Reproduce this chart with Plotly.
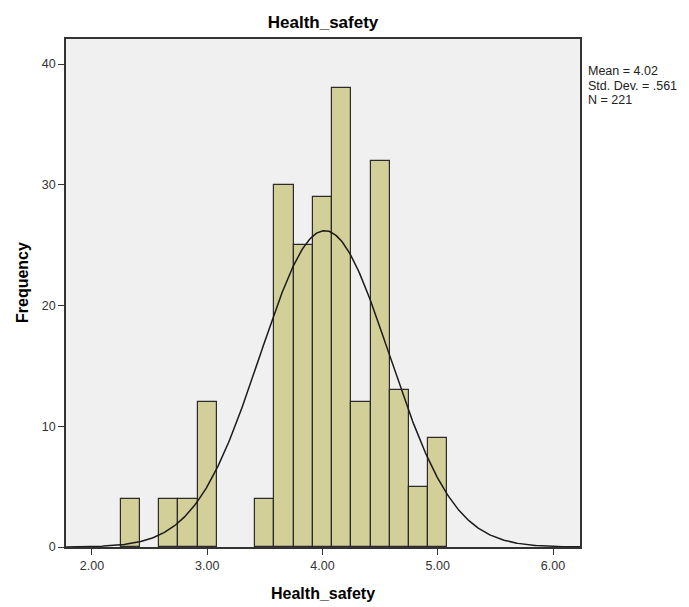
import numpy as np
import plotly.graph_objects as go

# Data
bin_start = 2.25
bin_width = 1.0 / 6.0
counts = [4, 0, 4, 4, 12, 0, 0, 4, 30, 25, 29, 38, 12, 32, 13, 5, 9]
mean_val = 4.02
std_val = 0.561
n_val = 221
stats_lines = [f"Mean = {mean_val:.2f}", "Std. Dev. = .561", f"N = {n_val}"]
x_ticks = [2.0, 3.0, 4.0, 5.0, 6.0]
x_tick_labels = ["2.00", "3.00", "4.00", "5.00", "6.00"]
y_ticks = [0, 10, 20, 30, 40]

centers = [bin_start + bin_width * (i + 0.5) for i in range(len(counts))]
bar_heights = [c if c > 0 else None for c in counts]

fig = go.Figure()
fig.add_trace(go.Bar(
    x=centers, y=bar_heights, width=[bin_width] * len(counts),
    marker=dict(color="#D3CF98", line=dict(color="#2b2b2b", width=1.2)),
    hoverinfo="x+y", showlegend=False,
))

xr = [1.775, 6.234]
xs = np.linspace(xr[0], xr[1], 400)
ys = n_val * bin_width / (std_val * np.sqrt(2 * np.pi)) * np.exp(-0.5 * ((xs - mean_val) / std_val) ** 2)
fig.add_trace(go.Scatter(x=xs, y=ys, mode="lines",
                         line=dict(color="#1a1a1a", width=1.5), showlegend=False))

W, H = 689, 607
L, R, T, B = 66, 109, 39, 60
pw, ph = W - L - R, H - T - B

def px(x):
    return (x - L) / pw

def py(y):
    return 1 - (y - T) / ph

annotations = []
for i, (line, yc) in enumerate(zip(stats_lines, [71, 86, 100])):
    annotations.append(dict(text=line, xref="paper", yref="paper", x=px(586), y=py(yc),
                            xanchor="left", yanchor="middle", align="left", showarrow=False,
                            font=dict(size=12.5, color="#222222")))
annotations.append(dict(text="<b>Health_safety</b>", xref="paper", yref="paper",
                        x=px(323), y=py(593), xanchor="center", yanchor="middle",
                        showarrow=False, font=dict(size=16, color="#000000")))
annotations.append(dict(text="<b>Frequency</b>", xref="paper", yref="paper",
                        x=px(22), y=py(283), xanchor="center", yanchor="middle",
                        textangle=-90, showarrow=False, font=dict(size=16, color="#000000")))

fig.update_layout(
    width=W, height=H,
    margin=dict(l=L, r=R, t=T, b=B, autoexpand=False),
    paper_bgcolor="white", plot_bgcolor="#F0F0F0",
    bargap=0,
    font=dict(family="Liberation Sans, Arial, sans-serif", color="#222222"),
    title=dict(text="<b>Health_safety</b>", x=323 / W, xanchor="center",
               y=1 - 22 / H, yanchor="middle",
               font=dict(size=17, color="#000000")),
    xaxis=dict(range=xr, tickvals=x_ticks, ticktext=x_tick_labels, automargin=False,
               showgrid=False, zeroline=False, showline=True, mirror=True,
               linecolor="#333333", linewidth=1.5,
               ticks="outside", ticklen=6, tickcolor="#333333",
               tickfont=dict(size=12.5, color="#333333")),
    yaxis=dict(range=[0, 42.07], tickvals=y_ticks, automargin=False,
               showgrid=False, zeroline=False, showline=True, mirror=True,
               linecolor="#333333", linewidth=1.5,
               ticks="outside", ticklen=6, tickcolor="#333333",
               tickfont=dict(size=12.5, color="#333333")),
    annotations=annotations,
)

fig.write_html("out.html", config={"displayModeBar": False},
               post_script="document.body.style.margin='0';document.body.style.overflow='hidden';")
